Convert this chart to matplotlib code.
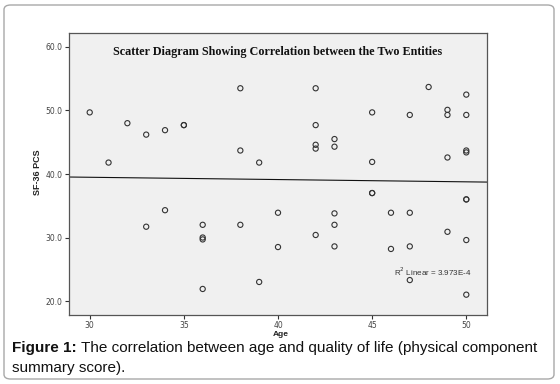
import numpy as np
import matplotlib
matplotlib.use("Agg")
import matplotlib.pyplot as plt
from matplotlib.patches import FancyBboxPatch

# Data
age = [30, 31, 32, 33, 33, 34, 34, 35, 35,
       36, 36, 36, 36, 38, 38, 38, 39, 39, 40, 40,
       42, 42, 42, 42, 42, 43, 43, 43, 43, 43,
       45, 45, 45, 45, 46, 46, 47, 47, 47, 47, 48,
       49, 49, 49, 49, 50, 50, 50, 50, 50, 50, 50, 50]
pcs = [49.7, 41.8, 48.0, 46.2, 31.7, 46.9, 34.3, 47.7, 47.7,
       32.0, 30.0, 29.7, 21.9, 53.5, 43.7, 32.0, 41.8, 23.0, 33.9, 28.5,
       53.5, 47.7, 44.6, 44.0, 30.4, 45.5, 44.3, 33.8, 32.0, 28.6,
       49.7, 41.9, 37.0, 37.0, 33.9, 28.2, 49.3, 33.9, 28.6, 23.3, 53.7,
       50.1, 49.3, 42.6, 30.9, 52.5, 49.3, 43.7, 43.4, 36.0, 36.0, 29.6, 21.0]
x_ticks = [30, 35, 40, 45, 50]
y_ticks = [20.0, 30.0, 40.0, 50.0, 60.0]
title = "Scatter Diagram Showing Correlation between the Two Entities"
r2_label = "R$^2$ Linear = 3.973E-4"

fig = plt.figure(figsize=(5.6, 3.84), dpi=100)
fig.patch.set_facecolor("white")

# rounded frame around the figure
frame = FancyBboxPatch((4 / 560, 5 / 384), 550 / 560, 374 / 384,
                       boxstyle="round,pad=0,rounding_size=0.012",
                       transform=fig.transFigure, facecolor="none",
                       edgecolor="#a8a8a8", linewidth=1.0)
fig.patches.append(frame)

ax = fig.add_axes([69 / 560, 1 - 315 / 384, 418 / 560, 282 / 384])
ax.set_facecolor("#f0f0f0")
ax.scatter(age, pcs, s=14, facecolors="none", edgecolors="#333333", linewidths=0.8, zorder=3)

xlim = (28.9, 51.1)
ax.set_xlim(*xlim)
ax.set_ylim(17.8, 62.2)

# linear fit line across the axes
coef = np.polyfit(age, pcs, 1)
xs = np.array(xlim)
ax.plot(xs, np.polyval(coef, xs), color="#111111", linewidth=0.8, zorder=2)

ax.set_xticks(x_ticks)
ax.set_xticklabels([str(t) for t in x_ticks])
ax.set_yticks(y_ticks)
ax.set_yticklabels([f"{t:.1f}" for t in y_ticks])
ax.tick_params(axis="both", direction="out", length=3, width=0.8, colors="#333333",
               labelsize=5.5, labelcolor="#444444", pad=1.5)
for side in ["top", "right", "left", "bottom"]:
    ax.spines[side].set_color("#555555")
    ax.spines[side].set_linewidth(0.9)

ax.text(0.5, 0.933, title, transform=ax.transAxes, ha="center", va="center",
        family="Liberation Serif", fontweight="bold", fontsize=8.7, color="#111111")
ax.text(0.778, 0.152, r2_label, transform=ax.transAxes, ha="left", va="center",
        fontsize=5.8, color="#333333", family="Liberation Sans")

fig.text(38 / 560, 1 - 172 / 384, "SF-36 PCS", rotation=90, ha="center", va="center",
         fontsize=6.5, fontweight="bold", family="Liberation Sans", color="#222222")
fig.text(281 / 560, 1 - 334.5 / 384, "Age", ha="center", va="center",
         fontsize=6.0, fontweight="bold", family="Liberation Sans", color="#222222")

# caption
t1 = fig.text(12 / 560, 1 - 352 / 384, "Figure 1:", ha="left", va="baseline",
              fontsize=11, fontweight="bold", family="Liberation Sans", color="#111111")
fig.canvas.draw()
bb = t1.get_window_extent()
fig.text((bb.x1 + 4) / 560, 1 - 352 / 384,
         "The correlation between age and quality of life (physical component",
         ha="left", va="baseline", fontsize=11, family="Liberation Sans", color="#111111")
fig.text(12 / 560, 1 - 372 / 384, "summary score).", ha="left", va="baseline",
         fontsize=11, family="Liberation Sans", color="#111111")

fig.savefig("out.png", dpi=100)
